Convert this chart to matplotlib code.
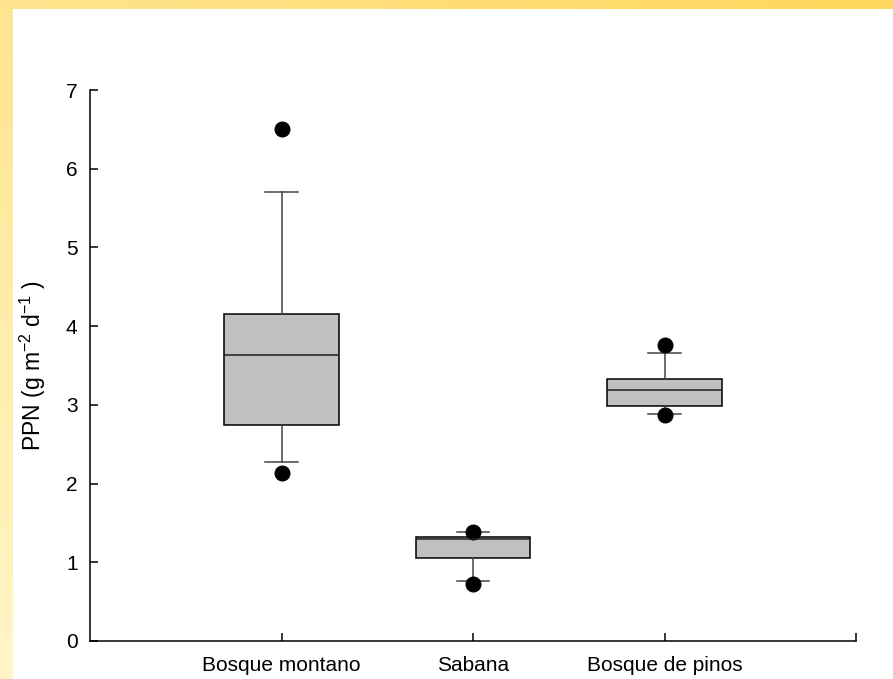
import numpy as np
import matplotlib
matplotlib.use('Agg')
from matplotlib import pyplot as plt
from matplotlib.colors import LinearSegmentedColormap

plt.rcParams['font.family'] = ['Liberation Sans', 'DejaVu Sans']
plt.rcParams['mathtext.fontset'] = 'custom'
plt.rcParams['mathtext.rm'] = 'Liberation Sans'
plt.rcParams['axes.unicode_minus'] = False

sites = ['Bosque montano', 'Sabana', 'Bosque de pinos']
whislo = [2.27, 0.76, 2.88]
q1 = [2.75, 1.06, 2.99]
med = [3.63, 1.30, 3.19]
q3 = [4.16, 1.32, 3.33]
whishi = [5.70, 1.38, 3.66]
fliers = [[6.50, 2.13], [1.38, 0.73], [3.76, 2.87]]

W, H = 893, 679
fig = plt.figure(figsize=(W / 100, H / 100), dpi=100)
fig.patch.set_facecolor('white')

# yellow frame along top and left edges
top = fig.add_axes([0, 1 - 9 / H, 1, 9 / H])
top.imshow(np.linspace(0, 1, 256)[None, :], aspect='auto',
           cmap=LinearSegmentedColormap.from_list('t', ['#FFE590', '#FFD75C']))
top.axis('off')
left = fig.add_axes([0, 0, 13 / W, 1 - 9 / H])
left.imshow(np.linspace(0, 1, 256)[:, None], aspect='auto',
            cmap=LinearSegmentedColormap.from_list('l', ['#FFE590', '#FFF6C6']))
left.axis('off')

ax = fig.add_axes([90 / W, (H - 641) / H, (856 - 90) / W, (641 - 90) / H])

stats = []
for i in range(len(sites)):
    stats.append(dict(label=sites[i], whislo=whislo[i], q1=q1[i], med=med[i],
                      q3=q3[i], whishi=whishi[i], fliers=fliers[i]))

ax.bxp(stats, positions=[1, 2, 3], widths=0.6, patch_artist=True,
       boxprops=dict(facecolor='#C0C0C0', edgecolor='black', linewidth=1.1),
       medianprops=dict(color='#222222', linewidth=1.1),
       whiskerprops=dict(color='#444444', linewidth=1.1),
       capprops=dict(color='#444444', linewidth=1.1),
       capwidths=0.17,
       flierprops=dict(marker='o', markerfacecolor='black',
                       markeredgecolor='black', markersize=10.5))

ax.set_xlim(0, 4)
ax.set_ylim(0, 7)
ax.set_xticks([1, 2, 3, 4])
ax.set_xticklabels(sites + [''])
ax.set_yticks(range(8))
ax.spines['top'].set_visible(False)
ax.spines['right'].set_visible(False)
for s in ['left', 'bottom']:
    ax.spines[s].set_linewidth(1.1)
ax.tick_params(direction='in', length=6, width=1.1, labelsize=15)
ax.tick_params(axis='y', pad=9)
ax.tick_params(axis='x', pad=11)
ax.set_ylabel(r'PPN (g m$^{\mathregular{-2}}$ d$^{\mathregular{-1}}$ )',
              fontsize=16.5, labelpad=13)

fig.savefig('out.png', dpi=100, facecolor=fig.get_facecolor())
